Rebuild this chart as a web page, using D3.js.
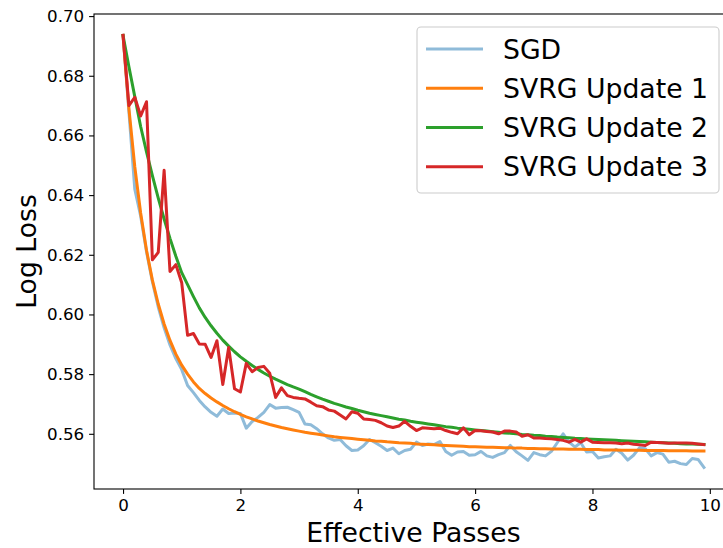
<!DOCTYPE html>
<html>
<head>
<meta charset="utf-8">
<script src="https://cdn.jsdelivr.net/npm/d3@7"></script>
<style>
  html, body { margin: 0; padding: 0; background: #fff; }
  svg { display: block; font-family: "DejaVu Sans", sans-serif; }
</style>
</head>
<body>
<svg id="chart" width="723" height="548"></svg>
<script>
// Effective passes sampled every 0.1
const passes = d3.range(100).map(i => +(i / 10).toFixed(1));

const seriesNames = ["SGD", "SVRG Update 1", "SVRG Update 2", "SVRG Update 3"];

const sgd = [
  0.6935, 0.6680, 0.6420, 0.6330, 0.6210, 0.6110, 0.6025, 0.5955, 0.5898, 0.5852,
  0.5815, 0.5762, 0.5738, 0.5712, 0.5690, 0.5672, 0.5659, 0.5683, 0.5668, 0.5670,
  0.5668, 0.5619, 0.5641, 0.5655, 0.5672, 0.5698, 0.5686, 0.5688, 0.5689, 0.5681,
  0.5672, 0.5633, 0.5630, 0.5617, 0.5600, 0.5586, 0.5578, 0.5581, 0.5560, 0.5544,
  0.5546, 0.5560, 0.5581, 0.5570, 0.5558, 0.5544, 0.5552, 0.5533, 0.5544, 0.5548,
  0.5572, 0.5561, 0.5566, 0.5564, 0.5574, 0.5541, 0.5528, 0.5539, 0.5541, 0.5528,
  0.5530, 0.5541, 0.5526, 0.5521, 0.5530, 0.5537, 0.5561, 0.5540, 0.5526, 0.5511,
  0.5537, 0.5530, 0.5526, 0.5541, 0.5570, 0.5600, 0.5572, 0.5556, 0.5570, 0.5539,
  0.5541, 0.5519, 0.5523, 0.5526, 0.5548, 0.5535, 0.5512, 0.5528, 0.5553, 0.5550,
  0.5526, 0.5537, 0.5532, 0.5505, 0.5508, 0.5500, 0.5497, 0.5517, 0.5514, 0.5487
];

const svrg1 = [
  0.6935, 0.6690, 0.6495, 0.6340, 0.6215, 0.6115, 0.6035, 0.5968, 0.5913, 0.5867,
  0.5830, 0.5800, 0.5774, 0.5752, 0.5735, 0.5720, 0.5707, 0.5695, 0.5684, 0.5674,
  0.5665, 0.5657, 0.5650, 0.5643, 0.5637, 0.5631, 0.5626, 0.5621, 0.5617, 0.5613,
  0.5609, 0.5605, 0.5602, 0.5599, 0.5596, 0.5593, 0.5590, 0.5588, 0.5586, 0.5584,
  0.5582, 0.5580, 0.5578, 0.5576, 0.5575, 0.5573, 0.5572, 0.5570, 0.5569, 0.5568,
  0.5566, 0.5565, 0.5564, 0.5563, 0.5562, 0.5561, 0.5560, 0.5559, 0.5558, 0.5557,
  0.5557, 0.5556, 0.5555, 0.5555, 0.5554, 0.5553, 0.5553, 0.5552, 0.5552, 0.5551,
  0.5551, 0.5550, 0.5550, 0.5549, 0.5549, 0.5549, 0.5548, 0.5548, 0.5548, 0.5547,
  0.5547, 0.5547, 0.5546, 0.5546, 0.5546, 0.5545, 0.5545, 0.5545, 0.5545, 0.5544,
  0.5544, 0.5544, 0.5544, 0.5543, 0.5543, 0.5543, 0.5543, 0.5542, 0.5542, 0.5542
];

const svrg2 = [
  0.6935, 0.6830, 0.6730, 0.6630, 0.6545, 0.6465, 0.6390, 0.6320, 0.6255, 0.6195,
  0.6140, 0.6100, 0.6060, 0.6022, 0.5990, 0.5962, 0.5937, 0.5914, 0.5894, 0.5875,
  0.5858, 0.5843, 0.5829, 0.5816, 0.5804, 0.5793, 0.5783, 0.5774, 0.5765, 0.5757,
  0.5750, 0.5741, 0.5732, 0.5724, 0.5716, 0.5709, 0.5702, 0.5696, 0.5690, 0.5685,
  0.5679, 0.5674, 0.5669, 0.5665, 0.5661, 0.5657, 0.5653, 0.5649, 0.5646, 0.5642,
  0.5639, 0.5636, 0.5633, 0.5630, 0.5627, 0.5624, 0.5622, 0.5619, 0.5617, 0.5615,
  0.5613, 0.5611, 0.5609, 0.5607, 0.5605, 0.5603, 0.5602, 0.5600, 0.5598, 0.5597,
  0.5595, 0.5594, 0.5592, 0.5591, 0.5589, 0.5588, 0.5587, 0.5585, 0.5584, 0.5583,
  0.5582, 0.5581, 0.5580, 0.5579, 0.5578, 0.5577, 0.5576, 0.5575, 0.5574, 0.5573,
  0.5572, 0.5571, 0.5570, 0.5569, 0.5568, 0.5567, 0.5566, 0.5566, 0.5565, 0.5564
];

const svrg3 = [
  0.6935, 0.6700, 0.6728, 0.6665, 0.6713, 0.6183, 0.6208, 0.6483, 0.6144, 0.6167,
  0.6106, 0.5930, 0.5936, 0.5901, 0.5900, 0.5856, 0.5912, 0.5765, 0.5889, 0.5751,
  0.5740, 0.5836, 0.5808, 0.5822, 0.5826, 0.5803, 0.5722, 0.5754, 0.5728, 0.5722,
  0.5719, 0.5717, 0.5706, 0.5694, 0.5691, 0.5680, 0.5676, 0.5663, 0.5650, 0.5674,
  0.5669, 0.5650, 0.5648, 0.5645, 0.5637, 0.5626, 0.5621, 0.5626, 0.5642, 0.5625,
  0.5611, 0.5620, 0.5619, 0.5617, 0.5619, 0.5611, 0.5605, 0.5600, 0.5620, 0.5597,
  0.5611, 0.5610, 0.5608, 0.5606, 0.5600, 0.5609, 0.5609, 0.5606, 0.5592, 0.5597,
  0.5586, 0.5586, 0.5584, 0.5583, 0.5581, 0.5578, 0.5572, 0.5581, 0.5572, 0.5583,
  0.5572, 0.5571, 0.5570, 0.5570, 0.5569, 0.5567, 0.5569, 0.5565, 0.5563, 0.5561,
  0.5572, 0.5571, 0.5570, 0.5568, 0.5569, 0.5569, 0.5569, 0.5568, 0.5566, 0.5564
];

const xTicks = [0, 2, 4, 6, 8, 10];
const yTicks = [0.56, 0.58, 0.60, 0.62, 0.64, 0.66, 0.68, 0.70];

const colors = ["#8fbbd9", "#ff7f0e", "#2ca02c", "#d62728"];
const values = [sgd, svrg1, svrg2, svrg3];

const plot = { left: 94, top: 14, right: 733, bottom: 489 };

const svg = d3.select("#chart");

const x = d3.scaleLinear().domain([-0.495, 10.395]).range([plot.left, plot.right]);
const y = d3.scaleLinear().domain([0.5415, 0.7007]).range([plot.bottom, plot.top]);

svg.append("defs").append("clipPath").attr("id", "plot-clip")
  .append("rect")
  .attr("x", plot.left).attr("y", plot.top)
  .attr("width", plot.right - plot.left).attr("height", plot.bottom - plot.top);

// Curves
const line = d3.line().x((d, i) => x(passes[i])).y(d => y(d));
const lines = svg.append("g").attr("clip-path", "url(#plot-clip)");
values.forEach((vals, k) => {
  lines.append("path")
    .datum(vals)
    .attr("d", line)
    .attr("fill", "none")
    .attr("stroke", colors[k])
    .attr("stroke-width", 3)
    .attr("stroke-linejoin", "round")
    .attr("stroke-linecap", "square");
});

// Axes
const xAxis = d3.axisBottom(x).tickValues(xTicks).tickFormat(d3.format("d"))
  .tickSizeInner(4.9).tickSizeOuter(0).tickPadding(4.9);
const yAxis = d3.axisLeft(y).tickValues(yTicks).tickFormat(d3.format(".2f"))
  .tickSizeInner(4.9).tickSizeOuter(0).tickPadding(4.9);

const gx = svg.append("g").attr("transform", `translate(0,${plot.bottom})`).call(xAxis);
const gy = svg.append("g").attr("transform", `translate(${plot.left},0)`).call(yAxis);

[gx, gy].forEach(g => {
  g.select(".domain").remove();
  g.selectAll(".tick line").attr("stroke", "#000").attr("stroke-width", 1.1);
  g.selectAll(".tick text")
    .attr("fill", "#000")
    .style("font-family", "'DejaVu Sans', sans-serif")
    .style("font-size", "16.7px");
});

// Frame
svg.append("rect")
  .attr("x", plot.left).attr("y", plot.top)
  .attr("width", plot.right - plot.left).attr("height", plot.bottom - plot.top)
  .attr("fill", "none").attr("stroke", "#000").attr("stroke-width", 1.1);

// Axis titles
svg.append("text")
  .attr("x", x(5) - 3).attr("y", 542)
  .attr("text-anchor", "middle")
  .style("font-size", "26.7px")
  .text("Effective Passes");

svg.append("text")
  .attr("transform", `translate(36,${(plot.top + plot.bottom) / 2}) rotate(-90)`)
  .attr("text-anchor", "middle")
  .style("font-size", "26.7px")
  .text("Log Loss");

// Legend
const legend = svg.append("g");
legend.append("rect")
  .attr("x", 417).attr("y", 27).attr("width", 302).attr("height", 166)
  .attr("rx", 4).attr("ry", 4)
  .attr("fill", "#fff").attr("fill-opacity", 0.8)
  .attr("stroke", "#cccccc").attr("stroke-width", 1.1);

const rowY = [49, 88.3, 127.5, 166.7];
seriesNames.forEach((name, k) => {
  legend.append("line")
    .attr("x1", 426).attr("x2", 483)
    .attr("y1", rowY[k]).attr("y2", rowY[k])
    .attr("stroke", colors[k]).attr("stroke-width", 3);
  legend.append("text")
    .attr("x", 503).attr("y", rowY[k] + 9.6)
    .style("font-size", "26.7px")
    .text(name);
});
</script>
</body>
</html>
